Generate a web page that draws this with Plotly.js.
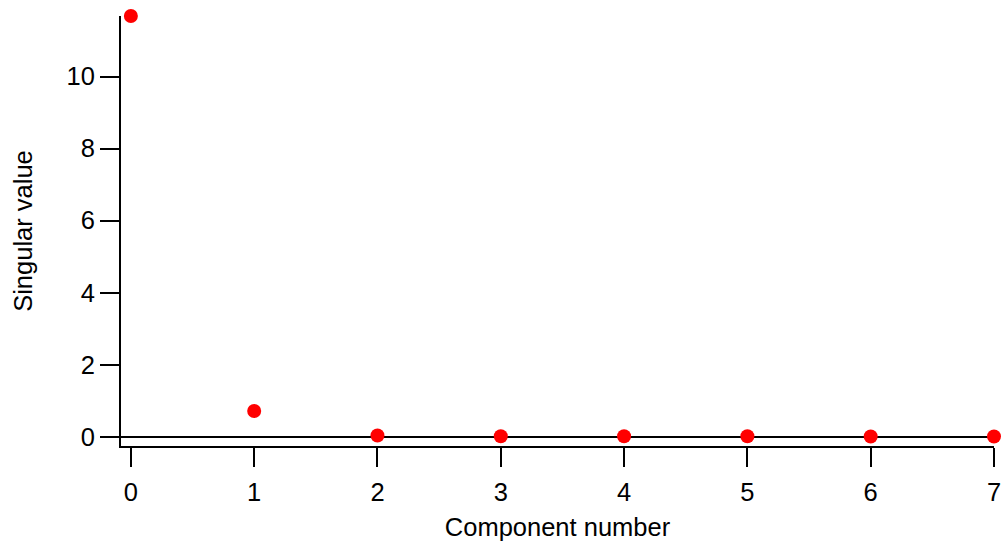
<!DOCTYPE html>
<html>
<head>
<meta charset="utf-8">
<script src="https://cdn.plot.ly/plotly-3.0.1.min.js"></script>
<style>html,body{margin:0;padding:0;background:#fff;}#chart{width:1005px;height:546px;}</style>
</head>
<body>
<div id="chart"></div>
<script>
const componentNumber = [0, 1, 2, 3, 4, 5, 6, 7];
const singularValue = [11.68, 0.71, 0.03, 0.01, 0.01, 0.01, 0.005, 0.005];
const yTickVals = [0, 2, 4, 6, 8, 10];
const xTickVals = [0, 1, 2, 3, 4, 5, 6, 7];

const font = {family: 'Liberation Sans, Arial, sans-serif', size: 25.5, color: '#000'};

Plotly.newPlot('chart', [{
  x: componentNumber,
  y: singularValue,
  type: 'scatter',
  mode: 'markers',
  marker: {color: '#ff0000', size: 14},
  cliponaxis: false,
  showlegend: false
}], {
  width: 1005, height: 546,
  margin: {l: 121, r: 11, t: 16, b: 100},
  paper_bgcolor: '#fff', plot_bgcolor: '#fff',
  font: font,
  xaxis: {
    range: [-0.08, 7.0],
    tickvals: xTickVals,
    ticktext: xTickVals.map(String),
    showline: true, linecolor: '#000', linewidth: 2,
    ticks: 'outside', ticklen: 19, tickwidth: 2, tickcolor: '#000',
    ticklabelstandoff: 3,
    showgrid: false, zeroline: false,
    tickfont: font,
    title: {text: 'Component number', font: font, standoff: 14}
  },
  yaxis: {
    range: [-0.26, 11.68],
    tickvals: yTickVals,
    ticktext: yTickVals.map(String),
    showline: true, linecolor: '#000', linewidth: 2,
    ticks: 'outside', ticklen: 19, tickwidth: 2, tickcolor: '#000',
    showgrid: false,
    zeroline: true, zerolinecolor: '#000', zerolinewidth: 2,
    tickfont: font,
    title: {text: 'Singular value', font: font, standoff: 27}
  }
}, {displayModeBar: false, staticPlot: true});
</script>
</body>
</html>
